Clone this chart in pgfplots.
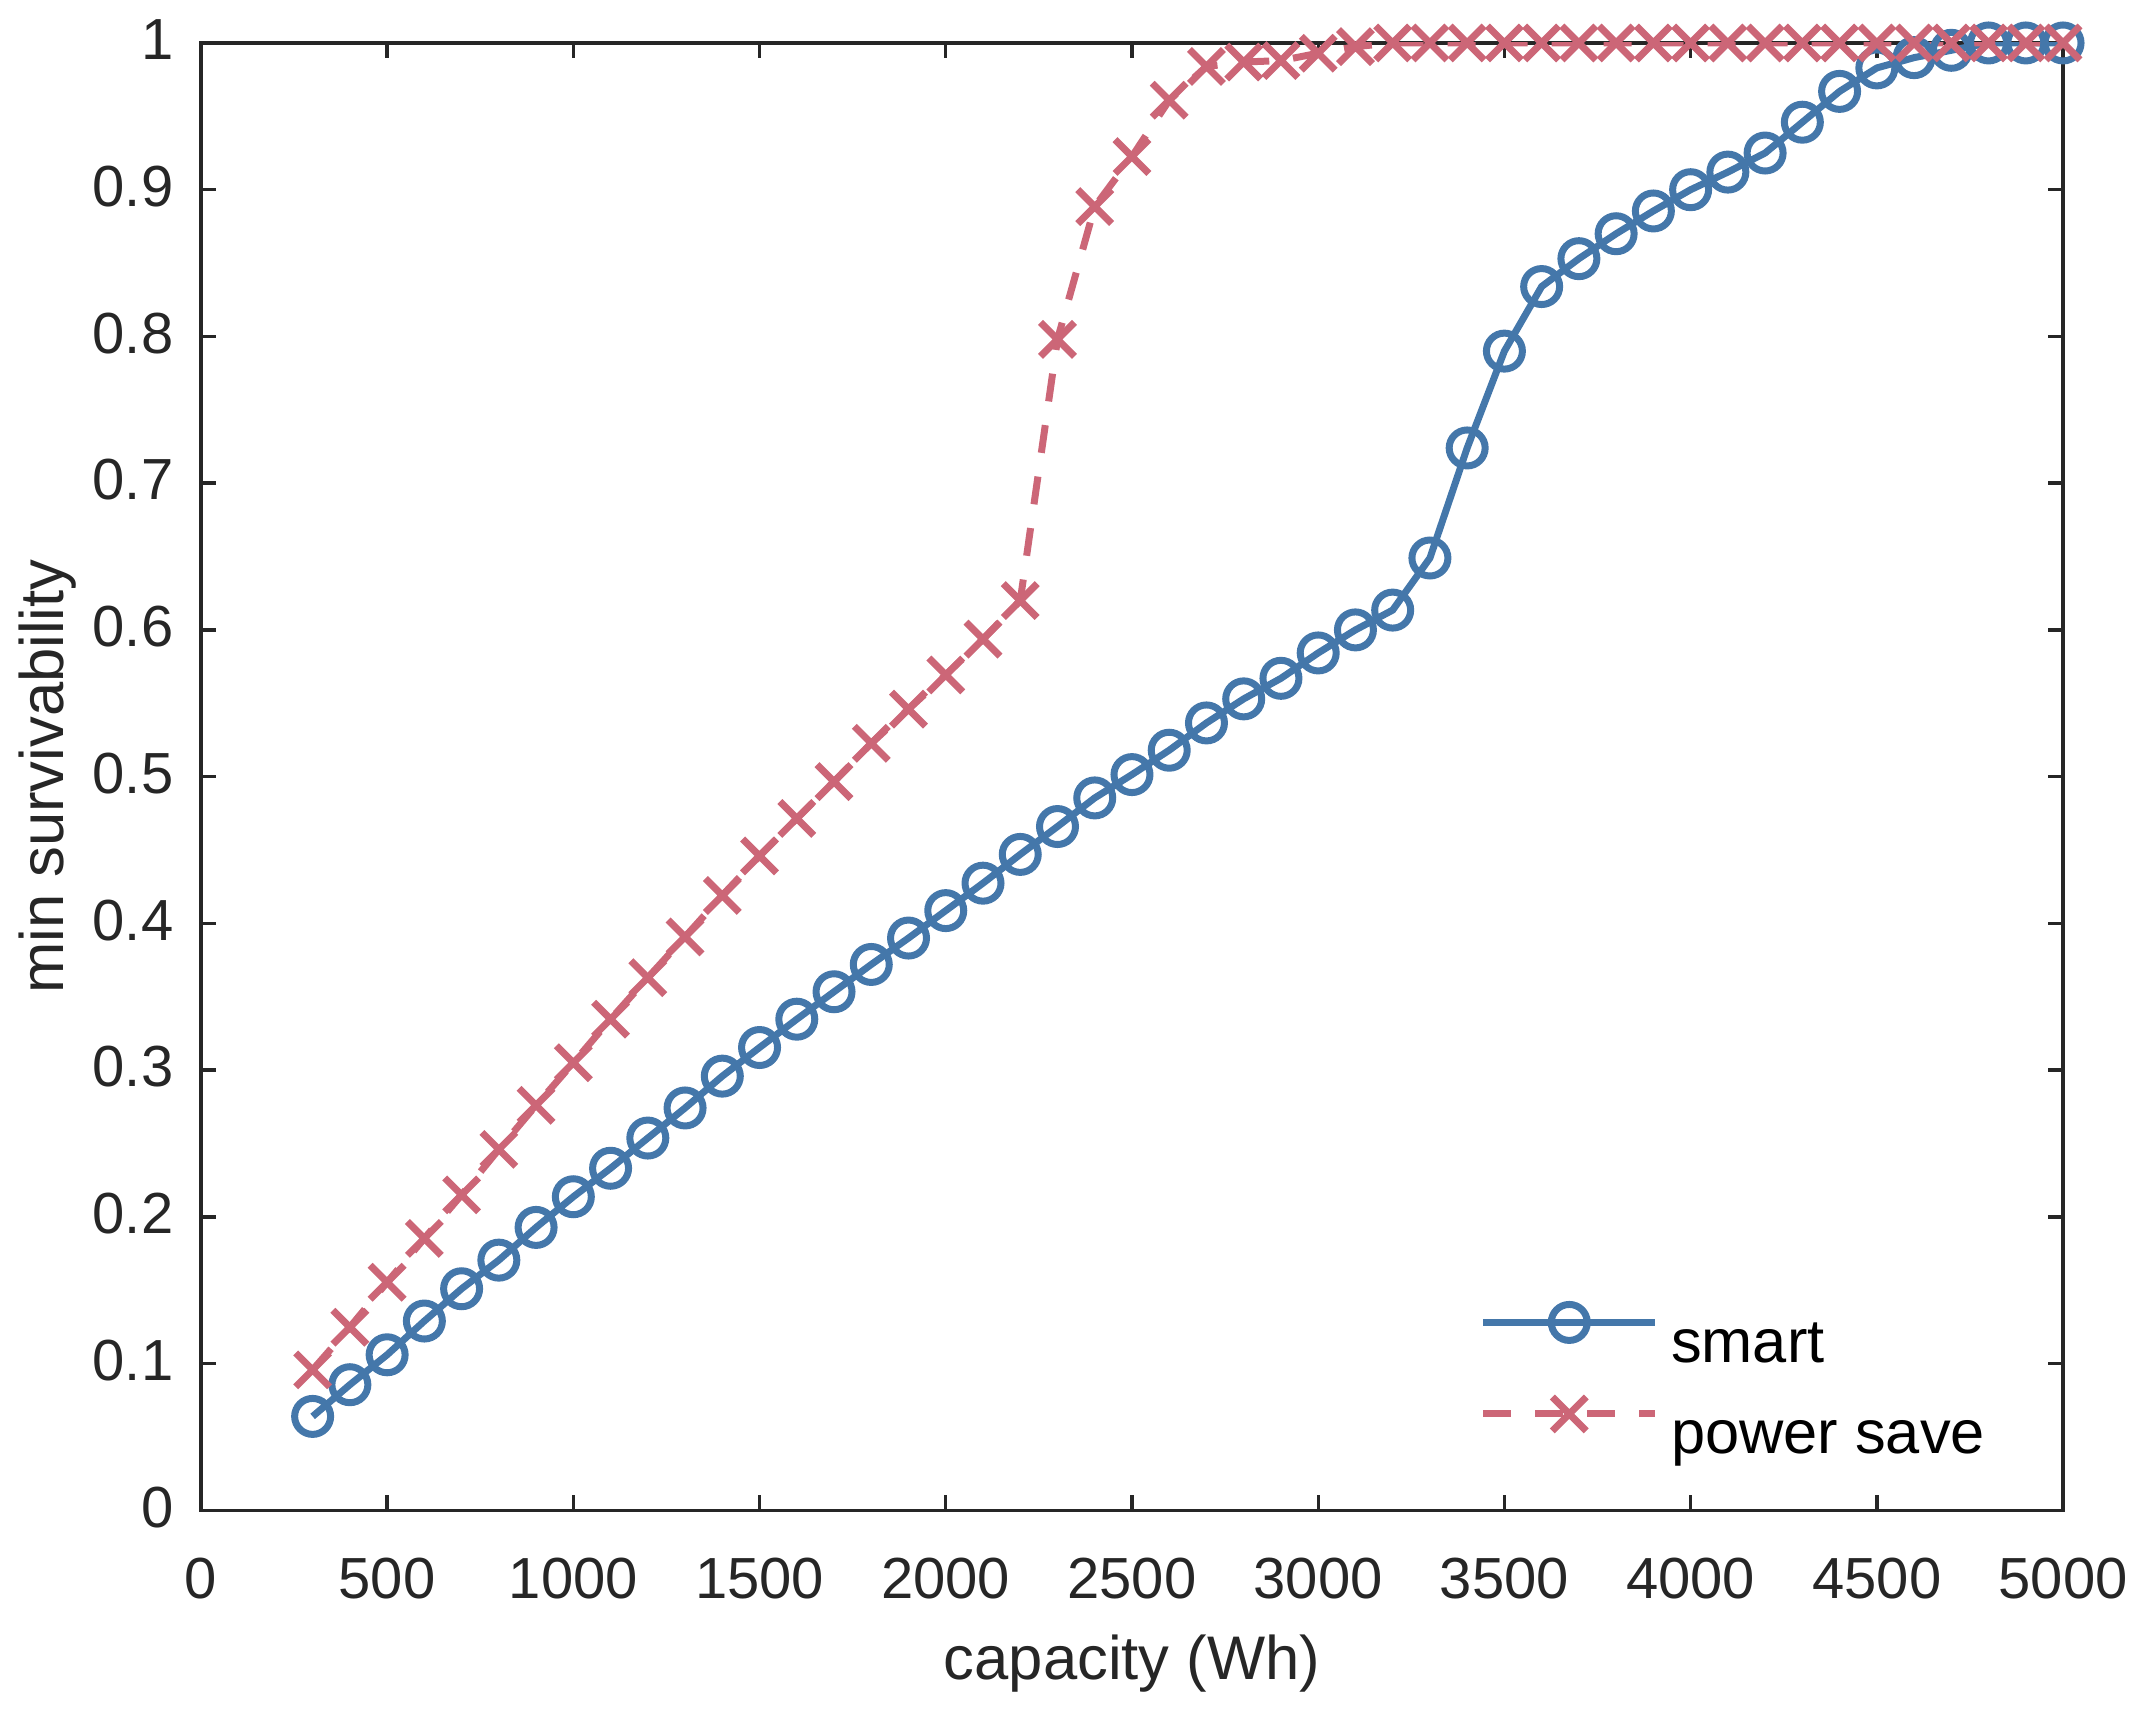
\documentclass[border=0pt]{standalone}
\usepackage{fontspec}
\setmainfont{Liberation Sans}
\usepackage{pgfplots}
\usepackage{pgfplotstable}
\pgfplotsset{compat=1.18}
\definecolor{cblue}{HTML}{4477AA}
\definecolor{cred}{HTML}{CC6677}
\definecolor{axgray}{HTML}{262626}

\pgfplotstableread{
x y
300 0.064
400 0.0856
500 0.106
600 0.129
700 0.151
800 0.1705
900 0.1928
1000 0.2137
1100 0.2331
1200 0.2537
1300 0.2742
1400 0.2959
1500 0.3154
1600 0.3347
1700 0.3534
1800 0.372
1900 0.390
2000 0.4087
2100 0.4274
2200 0.447
2300 0.466
2400 0.4855
2500 0.5014
2600 0.518
2700 0.5366
2800 0.553
2900 0.567
3000 0.5843
3100 0.600
3200 0.6135
3300 0.649
3400 0.724
3500 0.790
3600 0.834
3700 0.853
3800 0.870
3900 0.8855
4000 0.900
4100 0.912
4200 0.925
4300 0.946
4400 0.967
4500 0.983
4600 0.990
4700 0.995
4800 1.0
4900 1.0
5000 1.0
}\smart

\pgfplotstableread{
x y
300 0.0957
400 0.1248
500 0.1554
600 0.1853
700 0.215
800 0.246
900 0.276
1000 0.305
1100 0.3347
1200 0.363
1300 0.3908
1400 0.419
1500 0.446
1600 0.4715
1700 0.4966
1800 0.5227
1900 0.546
2000 0.5693
2100 0.5937
2200 0.620
2300 0.798
2400 0.8885
2500 0.9226
2600 0.961
2700 0.984
2800 0.987
2900 0.988
3000 0.993
3100 0.9975
3200 1.0
3300 1.0
3400 1.0
3500 1.0
3600 1.0
3700 1.0
3800 1.0
3900 1.0
4000 1.0
4100 1.0
4200 1.0
4300 1.0
4400 1.0
4500 1.0
4600 1.0
4700 1.0
4800 1.0
4900 1.0
5000 1.0
}\powersave

\begin{document}
\begin{tikzpicture}
\begin{axis}[
  name=ax,
  scale only axis,
  width=465.75pt, height=367pt,
  xmin=0, xmax=5000, ymin=0, ymax=1,
  xtick={0,500,1000,1500,2000,2500,3000,3500,4000,4500,5000},
  xticklabels={0,500,1000,1500,2000,2500,3000,3500,4000,4500,5000},
  ytick={0,0.1,0.2,0.3,0.4,0.5,0.6,0.7,0.8,0.9,1},
  yticklabels={0,0.1,0.2,0.3,0.4,0.5,0.6,0.7,0.8,0.9,1},
  /pgf/number format/assume math mode=true,
  tick align=inside,
  major tick length=3.75pt,
  axis line style={axgray, line width=0.85pt},
  every tick/.style={axgray, line width=0.85pt},
  ticklabel style={font=\fontsize{14.5}{17}\selectfont, text=axgray},
  xticklabel style={anchor=base, inner sep=0pt, yshift=-22pt},
  yticklabel style={anchor=east, inner sep=0pt, xshift=-6.7pt, yshift=0.8pt},
  xlabel={capacity (Wh)},
  ylabel={min survivability},
  label style={font=\fontsize{15.4}{18}\selectfont, text=axgray, inner sep=0pt},
  xlabel style={at={([yshift=-42.25pt]axis description cs:0.5,0)}, anchor=base},
  ylabel style={at={([xshift=-34.25pt]axis description cs:0,0.5)}, anchor=base},
  legend style={at={(rel axis cs:0.6868,0.1403)}, anchor=north west, draw=none, fill=none,
    inner sep=0pt, outer sep=0pt, row sep=5.55pt, column sep=3.1pt,
    font=\fontsize{15.35}{18}\selectfont,
    nodes={inner sep=0pt, text height=11pt, text depth=3.2pt},
    cells={anchor=base west}},
  legend cell align=left,
  legend image code/.code={\draw[mark repeat=2, mark phase=2, #1] plot coordinates {(0pt,6pt) (21.5pt,6pt) (43pt,6pt)};},
]
\addplot[cblue, line width=1.75pt, mark=o, mark size=4.5pt, mark options={solid, line width=1.75pt}] table[x=x,y=y] {\smart};
\addlegendentry{smart}
\addplot[cred, line width=1.75pt, dash pattern=on 7pt off 6pt, mark=x, mark size=6pt, mark options={solid, line width=1.75pt}] table[x=x,y=y] {\powersave};
\addlegendentry{power save}
\end{axis}
\pgfresetboundingbox
\path[use as bounding box] ([xshift=-50.25pt,yshift=-50.5pt]ax.south west) rectangle ([xshift=20.25pt,yshift=10.75pt]ax.north east);
\end{tikzpicture}
\end{document}
